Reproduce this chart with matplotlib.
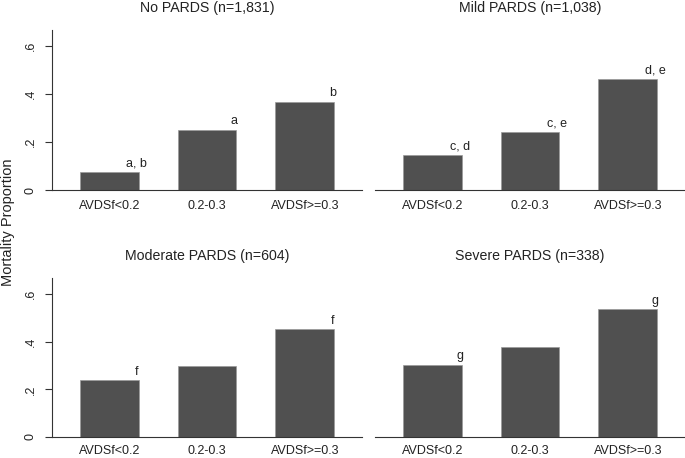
import matplotlib
matplotlib.use("Agg")
import matplotlib.pyplot as plt

plt.rcParams['font.family'] = ['Liberation Sans', 'DejaVu Sans']

categories = ["AVDSf<0.2", "0.2-0.3", "AVDSf>=0.3"]
titles = ["No PARDS (n=1,831)", "Mild PARDS (n=1,038)",
          "Moderate PARDS (n=604)", "Severe PARDS (n=338)"]
no_pards = [0.075, 0.251, 0.367]
mild_pards = [0.145, 0.240, 0.461]
moderate_pards = [0.238, 0.296, 0.451]
severe_pards = [0.303, 0.376, 0.536]
labels_no = ["a, b", "a", "b"]
labels_mild = ["c, d", "c, e", "d, e"]
labels_moderate = ["f", "", "f"]
labels_severe = ["g", "", "g"]
yticks = [0, 0.2, 0.4, 0.6]
ytick_labels = ["0", ".2", ".4", ".6"]

series = [no_pards, mild_pards, moderate_pards, severe_pards]
letters = [labels_no, labels_mild, labels_moderate, labels_severe]

W, H = 685, 458
fig = plt.figure(figsize=(W / 100, H / 100), dpi=100)

boxes = [
    (52, 30, 310, 160), (375, 30, 310, 160),
    (52, 278, 310, 159), (375, 278, 310, 159),
]

x = [1, 2, 3]
for i, (l, t, w, h) in enumerate(boxes):
    ax = fig.add_axes([l / W, (H - t - h) / H, w / W, h / H])
    ax.bar(x, series[i], width=0.6, color='#505050', edgecolor='#9a9a9a',
           linewidth=0.5, zorder=2)
    for xi, v, s in zip(x, series[i], letters[i]):
        if s:
            ax.annotate(s, (xi + 0.28, v), xytext=(0, 4), textcoords='offset points',
                        ha='center', va='baseline', fontsize=9, color='#222222')
    ax.set_xlim(0.415, 3.585)
    ax.set_ylim(0, 0.667)
    ax.set_xticks(x)
    ax.set_xticklabels(categories, fontsize=9, color='#222222')
    ax.tick_params(axis='x', length=0, pad=7 if i < 2 else 6)
    for sp in ['top', 'right']:
        ax.spines[sp].set_visible(False)
    ax.spines['bottom'].set_color('#333333')
    ax.spines['bottom'].set_linewidth(0.8)
    if i % 2 == 0:
        ax.set_yticks(yticks)
        ax.set_yticklabels(ytick_labels, fontsize=9, rotation=90, va='center',
                           color='#222222')
        ax.tick_params(axis='y', length=5, width=0.8, color='#333333', pad=6)
        ax.spines['left'].set_color('#333333')
        ax.spines['left'].set_linewidth(0.8)
    else:
        ax.spines['left'].set_visible(False)
        ax.set_yticks([])
    ax.set_title(titles[i], fontsize=10.2, pad=13, color='#222222')
    ax.patch.set_alpha(0)

fig.text(8 / W, 1 - 222 / H, "Mortality Proportion", rotation=90,
         ha='center', va='center', fontsize=10.5, color='#222222')

fig.savefig("out.png", dpi=100, facecolor='white')
